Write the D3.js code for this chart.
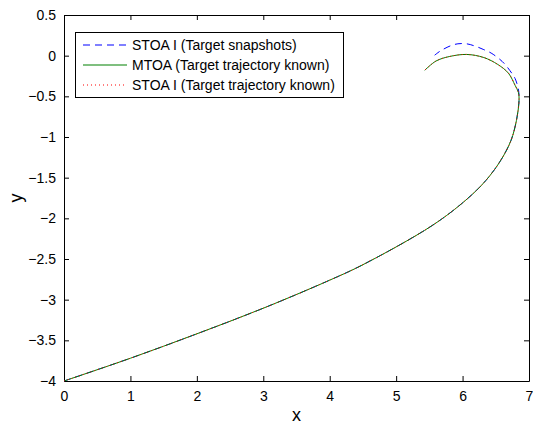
<!DOCTYPE html>
<html>
<head>
<meta charset="utf-8">
<script src="https://cdn.jsdelivr.net/npm/d3@7"></script>
<style>
  body { margin: 0; background: #fff; }
  text { font-family: "Liberation Sans", Arial, sans-serif; fill: #000; }
</style>
</head>
<body>
<svg width="533" height="425"></svg>
<script>
// shared part of the trajectory (all three curves agree here)
var sharedX = [0, 1.0, 2.0, 3.0, 4.0, 4.5, 5.54, 6.05, 6.35, 6.58, 6.73, 6.81, 6.85];
var sharedY = [-4, -3.72, -3.42, -3.105, -2.76, -2.57, -2.09, -1.775, -1.535, -1.28, -1.04, -0.80, -0.55];

// tail of the curve when the target trajectory is known (MTOA and STOA I known)
var knownTailX = [6.84, 6.79, 6.69, 6.53, 6.32, 6.06, 5.80, 5.60, 5.43];
var knownTailY = [-0.45, -0.364, -0.215, -0.108, -0.023, 0.015, -0.011, -0.066, -0.18];

// tail of the curve for STOA I with target snapshots
var snapTailX = [6.85, 6.84, 6.79, 6.74, 6.64, 6.56, 6.43, 6.32, 6.19, 6.06, 5.93, 5.83, 5.67, 5.58];
var snapTailY = [-0.49, -0.41, -0.28, -0.215, -0.108, -0.045, 0.032, 0.074, 0.117, 0.146, 0.146, 0.125, 0.06, 0.006];

var xTicks = [0, 1, 2, 3, 4, 5, 6, 7];
var yTicks = [0.5, 0, -0.5, -1, -1.5, -2, -2.5, -3, -3.5, -4];

var seriesNames = ["STOA I (Target snapshots)", "MTOA (Target trajectory known)", "STOA I (Target trajectory known)"];
var seriesColors = ["#0000ff", "#008000", "#ff0000"];
var seriesDash = ["7,5", null, "1,3"];

function toPoints(xs, ys) {
    return xs.map(function (x, i) { return { x: x, y: ys[i] }; });
}

var snapData = toPoints(sharedX.concat(snapTailX), sharedY.concat(snapTailY));
var knownData = toPoints(sharedX.concat(knownTailX), sharedY.concat(knownTailY));
var allData = [snapData, knownData, knownData];

var svg = d3.select("svg"),
    margin = { top: 15, right: 4, bottom: 44, left: 64 },
    width = +svg.attr("width") - margin.left - margin.right,
    height = +svg.attr("height") - margin.top - margin.bottom,
    g = svg.append("g").attr("transform", "translate(" + margin.left + "," + margin.top + ")");

var x = d3.scaleLinear().domain([0, 7]).range([0, width]);
var y = d3.scaleLinear().domain([-4, 0.5]).range([height, 0]);
var fmt = d3.format("");

// axes with inward ticks on all four sides
g.append("g")
    .attr("transform", "translate(0," + height + ")")
    .call(d3.axisBottom(x).tickValues(xTicks).tickSizeInner(-5).tickSizeOuter(0).tickPadding(10).tickFormat(fmt));
g.append("g")
    .call(d3.axisLeft(y).tickValues(yTicks).tickSizeInner(-5).tickSizeOuter(0).tickPadding(8).tickFormat(fmt));
g.append("g")
    .call(d3.axisTop(x).tickValues(xTicks).tickSizeInner(-5).tickSizeOuter(0).tickFormat(""));
g.append("g")
    .attr("transform", "translate(" + width + ",0)")
    .call(d3.axisRight(y).tickValues(yTicks).tickSizeInner(-5).tickSizeOuter(0).tickFormat(""));

g.selectAll(".tick text").style("font-size", "14px").style("font-family", "Liberation Sans, Arial, sans-serif");
g.selectAll(".domain, .tick line").attr("stroke", "#000");

var line = d3.line()
    .x(function (d) { return x(d.x); })
    .y(function (d) { return y(d.y); })
    .curve(d3.curveCatmullRom.alpha(0.5));

allData.forEach(function (data, i) {
    g.append("path")
        .datum(data)
        .attr("fill", "none")
        .attr("stroke", seriesColors[i])
        .attr("stroke-width", 1)
        .attr("stroke-dasharray", seriesDash[i])
        .attr("d", line);
});

// axis titles
svg.append("text")
    .attr("x", margin.left + width / 2)
    .attr("y", 421)
    .attr("text-anchor", "middle")
    .style("font-size", "18px")
    .text("x");

svg.append("text")
    .attr("transform", "translate(22," + (margin.top + height / 2) + ") rotate(-90)")
    .attr("text-anchor", "middle")
    .style("font-size", "18px")
    .text("y");

// legend
var legend = svg.append("g");
legend.append("rect")
    .attr("x", 75.5).attr("y", 32.5)
    .attr("width", 268).attr("height", 65)
    .attr("fill", "#fff")
    .attr("stroke", "#000")
    .attr("stroke-width", 1);

seriesNames.forEach(function (name, i) {
    var ly = 45 + i * 20;
    legend.append("line")
        .attr("x1", 83).attr("x2", 127)
        .attr("y1", ly).attr("y2", ly)
        .attr("stroke", seriesColors[i])
        .attr("stroke-width", 1.2)
        .attr("stroke-dasharray", seriesDash[i]);
    legend.append("text")
        .attr("x", 132)
        .attr("y", ly + 5)
        .style("font-size", "14px")
        .text(name);
});
</script>
</body>
</html>
